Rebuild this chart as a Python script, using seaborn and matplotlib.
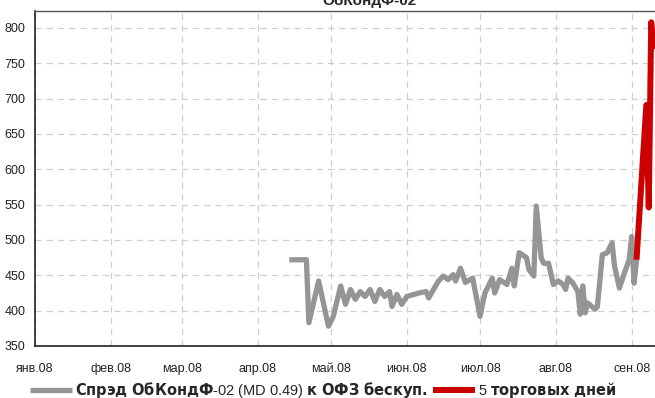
import matplotlib
matplotlib.use("Agg")
import matplotlib.pyplot as plt
import seaborn as sns
import pandas as pd

# Spread of ObKondF-02 vs OFZ zero-coupon curve, bp
spread_dates = [
    "2008-04-14", "2008-04-21", "2008-04-22", "2008-04-26", "2008-04-30",
    "2008-05-02", "2008-05-05", "2008-05-07", "2008-05-09", "2008-05-11",
    "2008-05-13", "2008-05-15", "2008-05-17", "2008-05-19", "2008-05-21",
    "2008-05-23", "2008-05-25", "2008-05-26", "2008-05-28", "2008-05-30",
    "2008-06-01", "2008-06-04", "2008-06-06", "2008-06-09", "2008-06-10",
    "2008-06-12", "2008-06-14", "2008-06-16", "2008-06-18", "2008-06-20",
    "2008-06-21", "2008-06-23", "2008-06-25", "2008-06-26", "2008-06-28",
    "2008-07-01", "2008-07-03", "2008-07-06", "2008-07-07", "2008-07-09",
    "2008-07-12", "2008-07-14", "2008-07-15", "2008-07-17", "2008-07-20",
    "2008-07-21", "2008-07-23", "2008-07-24", "2008-07-26", "2008-07-27",
    "2008-07-29", "2008-07-31", "2008-08-02", "2008-08-04", "2008-08-05",
    "2008-08-06", "2008-08-08", "2008-08-10", "2008-08-11", "2008-08-12",
    "2008-08-13", "2008-08-14", "2008-08-17", "2008-08-18", "2008-08-20",
    "2008-08-22", "2008-08-24", "2008-08-25", "2008-08-27", "2008-08-29",
    "2008-08-31", "2008-09-01", "2008-09-02", "2008-09-03",
]
spread_values = [
    472, 472, 383, 442, 378,
    392, 435, 409, 430, 416,
    427, 420, 430, 413, 430,
    420, 427, 406, 423, 409,
    420, 423, 425, 427, 418,
    430, 442, 449, 444, 451,
    442, 460, 440, 442, 446,
    392, 425, 446, 425, 444,
    437, 460, 435, 482, 475,
    458, 449, 548, 475, 467,
    467, 437, 442, 437, 430,
    446, 439, 427, 395, 435,
    397, 411, 402, 406, 479,
    482, 496, 463, 432, 453,
    472, 505, 439, 472,
]

# Last five trading days
recent_dates = ["2008-09-03", "2008-09-07", "2008-09-08", "2008-09-09", "2008-09-10"]
recent_values = [472, 691, 546, 808, 770]

month_starts = ["2008-01-01", "2008-02-01", "2008-03-01", "2008-04-01", "2008-05-01",
                "2008-06-01", "2008-07-01", "2008-08-01", "2008-09-01"]
month_labels = ["янв.08", "фев.08", "мар.08", "апр.08", "май.08",
                "июн.08", "июл.08", "авг.08", "сен.08"]
y_ticks = [350, 400, 450, 500, 550, 600, 650, 700, 750, 800]

sns.set_style("white")
plt.rcParams["font.family"] = ["Liberation Sans", "DejaVu Sans"]
plt.rcParams["mathtext.fontset"] = "custom"
plt.rcParams["mathtext.rm"] = "Liberation Sans"
plt.rcParams["mathtext.bf"] = "DejaVu Sans:bold"

spread_df = pd.DataFrame({"date": pd.to_datetime(spread_dates), "value": spread_values})
recent_df = pd.DataFrame({"date": pd.to_datetime(recent_dates), "value": recent_values})

fig = plt.figure(figsize=(6.55, 3.98), dpi=100)
ax = fig.add_axes([35 / 655, 52 / 398, 670 / 655, 335 / 398])

label_spread = r"$\mathbf{Спрэд\ ОбКондФ}$-02 (MD 0.49) $\mathbf{к\ ОФЗ\ бескуп.}$"
label_recent = r"5 $\mathbf{торговых\ дней}$"

sns.lineplot(data=spread_df, x="date", y="value", ax=ax, color="#959595",
             linewidth=3.8, label=label_spread, legend=False)
sns.lineplot(data=recent_df, x="date", y="value", ax=ax, color="#cc0000",
             linewidth=4.3, label=label_recent, legend=False)
for line in ax.get_lines():
    line.set_solid_joinstyle("round")
    line.set_solid_capstyle("butt")

ax.set_xlim(pd.Timestamp("2008-01-01"), pd.Timestamp("2008-10-01"))
ax.set_ylim(350, 824)
ax.set_xticks(pd.to_datetime(month_starts))
ax.set_xticklabels(month_labels)
ax.set_yticks(y_ticks)
ax.set_xlabel("")
ax.set_ylabel("")

ax.grid(True, color="#cfcfcf", linestyle=(0, (5, 4)), linewidth=0.9)
ax.set_axisbelow(True)
ax.tick_params(axis="both", labelsize=9, colors="#222222", length=4, width=1,
               direction="out")
ax.tick_params(axis="y", pad=3)
ax.tick_params(axis="x", pad=8)

for side in ["left", "bottom"]:
    ax.spines[side].set_color("#222222")
    ax.spines[side].set_linewidth(1.2)
ax.spines["top"].set_color("#555555")
ax.spines["top"].set_linewidth(1.0)
ax.spines["right"].set_visible(False)

ax.set_title("ОбКондФ-02", fontsize=11, fontweight="bold", pad=4)

handles, labels = ax.get_legend_handles_labels()
fig.legend(handles, labels, loc="center left", bbox_to_anchor=(30 / 655, 1 - 390 / 398),
           ncol=2, frameon=False, fontsize=10.5, handlelength=2.9,
           handletextpad=0.2, columnspacing=0.3, borderpad=0, borderaxespad=0)

fig.savefig("out.png", dpi=100)
